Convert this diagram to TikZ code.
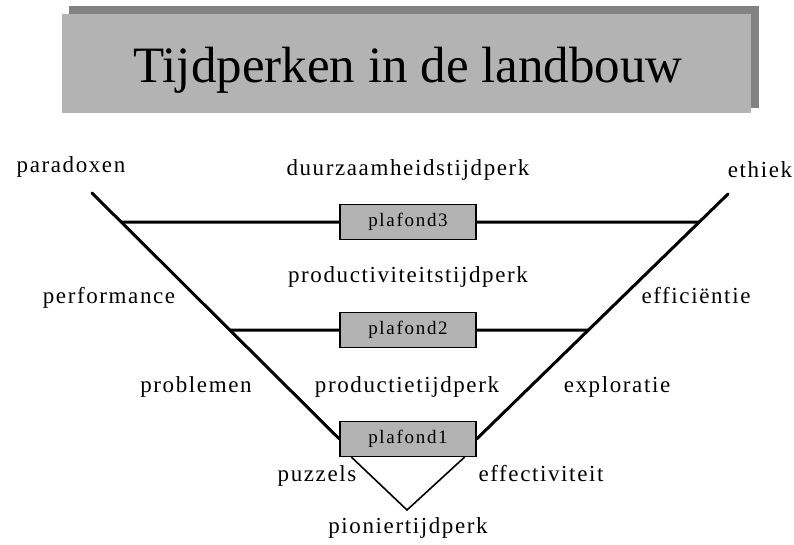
\documentclass[tikz,border=0pt]{standalone}
\usepackage{fontspec}
\setmainfont{Liberation Serif}
\usetikzlibrary{calc}
\definecolor{titlegray}{HTML}{B3B3B3}
\definecolor{shadowgray}{HTML}{828282}

\begin{document}
\begin{tikzpicture}[
    x=1pt, y=-1pt,
    word/.style={font=\fontsize{23}{27}\selectfont\addfontfeature{LetterSpace=7}, inner sep=0pt, anchor=base},
    ceiling/.style={draw=black, line width=1.2pt, fill=titlegray, minimum width=136pt, minimum height=35pt,
        inner sep=0pt, font=\fontsize{19}{22}\selectfont\addfontfeature{LetterSpace=9}},
    titlebox/.style={fill=titlegray, minimum width=689pt, minimum height=99pt, inner sep=0pt},
    border/.style={line width=3pt},
    tip/.style={line width=1.6pt},
]
    \useasboundingbox (0,0) rectangle (794,544);

    % --- Title ---
    \fill[shadowgray] (69,6) rectangle (759,108);
    \node[titlebox] (title) at (406.5,63.5) {};
    \node[font=\fontsize{51}{60}\selectfont, anchor=base] (titletext) at (408,82) {Tijdperken in de landbouw};

    % --- Ceilings ---
    \node[ceiling] (p3) at (408,222) {plafond3};
    \node[ceiling] (p2) at (408,330) {plafond2};
    \node[ceiling] (p1) at (408,439) {plafond1};

    % --- Funnel ---
    \coordinate (topleft) at (92,193);
    \coordinate (topright) at (728,194);
    \coordinate (apex) at (407,510);
    \draw[border, line cap=round] (topleft) -- (p1.west);
    \draw[border, line cap=round] (topright) -- (p1.east);
    \draw[border] (intersection of topleft--p1.west and p3.west--p3.east) -- (p3.west);
    \draw[border] (p3.east) -- (intersection of topright--p1.east and p3.west--p3.east);
    \draw[border] (intersection of topleft--p1.west and p2.west--p2.east) -- (p2.west);
    \draw[border] (p2.east) -- (intersection of topright--p1.east and p2.west--p2.east);
    \draw[tip] ($(p1.south west)+(12,0)$) -- (apex) -- ($(p1.south east)+(-12,0)$);

    % --- Labels ---
    \node[word] (paradoxen) at (71,172) {paradoxen};
    \node[word] (era4) at (408,175) {duurzaamheidstijdperk};
    \node[word] (ethiek) at (760,177) {ethiek};
    \node[word] (era3) at (408,282) {productiviteitstijdperk};
    \node[word] (performance) at (109,303) {performance};
    \node[word] (efficientie) at (696,303) {efficiëntie};
    \node[word] (problemen) at (196,392) {problemen};
    \node[word] (era2) at (407,392) {productietijdperk};
    \node[word] (exploratie) at (617,392) {exploratie};
    \node[word] (puzzels) at (317,481) {puzzels};
    \node[word] (effectiviteit) at (541,481) {effectiviteit};
    \node[word] (era1) at (408,533) {pioniertijdperk};

\end{tikzpicture}
\end{document}
